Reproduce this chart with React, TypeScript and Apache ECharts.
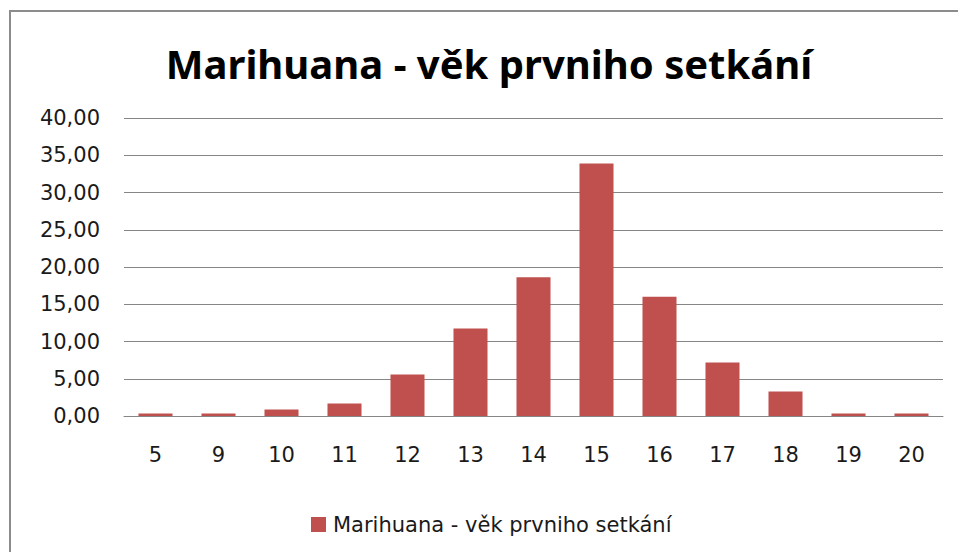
import React, { useEffect, useRef } from "react";
import * as echarts from "echarts";

const categories = ["5", "9", "10", "11", "12", "13", "14", "15", "16", "17", "18", "19", "20"];
const values = [0.32, 0.32, 0.86, 1.67, 5.57, 11.76, 18.63, 33.88, 16.02, 7.19, 3.28, 0.32, 0.32];
const seriesName = "Marihuana - věk prvniho setkání";
const titleText = "Marihuana - věk prvniho setkání";

export default function App() {
  const ref = useRef<HTMLDivElement>(null);
  useEffect(() => {
    const chart = echarts.init(ref.current!, null, { renderer: "svg" });
    const font = "DejaVu Sans";
    chart.setOption({
      animation: false,
      backgroundColor: "#ffffff",
      title: {
        text: titleText,
        left: 484,
        top: 38,
        textAlign: "center",
        textStyle: { fontFamily: "Noto Sans", fontWeight: "bold", fontSize: 40, color: "#000" },
      },
      graphic: [
        {
          type: "rect",
          shape: { x: 10, y: 11, width: 1000, height: 600 },
          style: { fill: "none", stroke: "#8c8c8c", lineWidth: 2 },
          silent: true,
        },
      ],
      legend: {
        data: [seriesName],
        left: 306,
        top: 509,
        itemWidth: 15,
        itemHeight: 15,
        icon: "rect",
        textStyle: { fontFamily: font, fontSize: 21, color: "#1a1a1a", padding: [0, 0, 0, 2] },
      },
      grid: { left: 124, right: 15, top: 118, bottom: 136, containLabel: false },
      xAxis: {
        type: "category",
        data: categories,
        axisLine: { show: true, lineStyle: { color: "#868686", width: 1 } },
        axisTick: { show: false },
        axisLabel: { fontFamily: font, fontSize: 21, color: "#1a1a1a", margin: 28 },
      },
      yAxis: {
        type: "value",
        min: 0,
        max: 40,
        interval: 5,
        axisLine: { show: false },
        axisTick: { show: false },
        splitLine: { lineStyle: { color: "#868686", width: 1 } },
        axisLabel: {
          fontFamily: font,
          fontSize: 21,
          color: "#1a1a1a",
          margin: 24,
          formatter: (v: number) => v.toFixed(2).replace(".", ","),
        },
      },
      series: [
        {
          name: seriesName,
          type: "bar",
          data: values,
          barWidth: "54%",
          itemStyle: { color: "#C0504D" },
        },
      ],
    });
    return () => chart.dispose();
  }, []);
  return <div ref={ref} style={{ width: 958, height: 552, position: "absolute", left: 0, top: 0 }} />;
}
